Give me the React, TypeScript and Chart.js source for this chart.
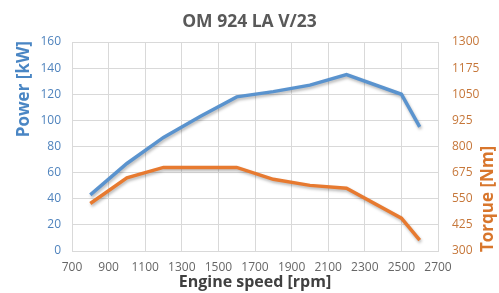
import React, { useEffect, useRef } from "react";
import { Chart, registerables } from "chart.js";

Chart.register(...registerables);

const rpm = [800, 1000, 1200, 1400, 1600, 1800, 2000, 2200, 2500, 2600];
const powerKW = [43, 67, 87, 103, 118, 122, 127, 135, 120, 95];
const torqueNm = [527, 650, 700, 700, 700, 643, 614, 600, 457, 352];
const xTicks = [700, 900, 1100, 1300, 1500, 1700, 1900, 2100, 2300, 2500, 2700];
const powerTicks = [0, 20, 40, 60, 80, 100, 120, 140, 160];
const torqueTicks = [300, 425, 550, 675, 800, 925, 1050, 1175, 1300];

const BLUE = "#5A93CE";
const ORANGE = "#E77A30";
const FONT = "'Open Sans', 'Noto Sans', sans-serif";
const plain = (v: any) => String(v);

const shadowPlugin = {
  id: "lineShadow",
  beforeDatasetDraw(chart: any) {
    const ctx = chart.ctx;
    ctx.save();
    ctx.shadowColor = "rgba(0,0,0,0.28)";
    ctx.shadowBlur = 3;
    ctx.shadowOffsetX = 1;
    ctx.shadowOffsetY = 2;
  },
  afterDatasetDraw(chart: any) {
    chart.ctx.restore();
  },
};

const yTitlesPlugin = {
  id: "yTitles",
  afterDraw(chart: any) {
    const ctx = chart.ctx;
    const area = chart.chartArea;
    ctx.save();
    ctx.font = `bold 17px ${FONT}`;
    ctx.textBaseline = "middle";
    ctx.save();
    ctx.translate(24, area.top - 1);
    ctx.rotate(-Math.PI / 2);
    ctx.textAlign = "right";
    ctx.fillStyle = "#4A86C4";
    ctx.fillText("Power [kW]", 0, 0);
    ctx.restore();
    ctx.save();
    ctx.translate(488, area.bottom + 1);
    ctx.rotate(-Math.PI / 2);
    ctx.textAlign = "left";
    ctx.fillStyle = "#D8762C";
    ctx.fillText("Torque [Nm]", 0, 0);
    ctx.restore();
    ctx.restore();
  },
};

export default function App() {
  const ref = useRef<HTMLCanvasElement>(null);
  useEffect(() => {
    document.body.style.margin = "0";
    const chart = new Chart(ref.current as HTMLCanvasElement, {
      type: "line",
      data: {
        datasets: [
          {
            label: "Power",
            data: rpm.map((x, i) => ({ x, y: powerKW[i] })),
            borderColor: BLUE,
            borderWidth: 3.5,
            pointRadius: 0,
            yAxisID: "y",
            tension: 0,
          },
          {
            label: "Torque",
            data: rpm.map((x, i) => ({ x, y: torqueNm[i] })),
            borderColor: ORANGE,
            borderWidth: 3.5,
            pointRadius: 0,
            yAxisID: "y1",
            tension: 0,
          },
        ],
      },
      options: {
        animation: false,
        responsive: false,
        layout: { padding: 0 },
        plugins: {
          legend: { display: false },
          tooltip: { enabled: false },
          title: {
            display: true,
            text: "OM 924 LA V/23",
            color: "#595959",
            font: { family: FONT, size: 17.5, weight: "bold" },
            padding: { top: 12, bottom: 9 },
          },
        },
        scales: {
          x: {
            type: "linear",
            min: 700,
            max: 2700,
            afterBuildTicks: (s: any) => {
              s.ticks = xTicks.map((v) => ({ value: v }));
            },
            afterFit: (s: any) => {
              s.height = 42;
            },
            ticks: {
              color: "#666666",
              font: { family: FONT, size: 12 },
              padding: 9,
              maxRotation: 0,
              autoSkip: false,
              callback: plain,
            },
            grid: { color: "#D9D9D9", drawTicks: false },
            border: { display: true, color: "#D9D9D9" },
            title: {
              display: true,
              text: "Engine speed [rpm]",
              color: "#404040",
              font: { family: FONT, size: 16, weight: "bold" },
              padding: { top: 0, bottom: 1 },
            },
          },
          y: {
            type: "linear",
            position: "left",
            min: 0,
            max: 160,
            afterBuildTicks: (s: any) => {
              s.ticks = powerTicks.map((v) => ({ value: v }));
            },
            afterFit: (s: any) => {
              s.width = 72;
            },
            ticks: {
              color: "#4F83BD",
              font: { family: FONT, size: 12 },
              padding: 11,
              callback: plain,
            },
            grid: { color: "#D9D9D9", drawTicks: false },
            border: { display: true, color: "#D9D9D9" },
          },
          y1: {
            type: "linear",
            position: "right",
            min: 300,
            max: 1300,
            afterBuildTicks: (s: any) => {
              s.ticks = torqueTicks.map((v) => ({ value: v }));
            },
            afterFit: (s: any) => {
              s.width = 61;
            },
            ticks: {
              color: "#C6773A",
              font: { family: FONT, size: 12 },
              padding: 14,
              callback: plain,
            },
            grid: { display: false, drawTicks: false },
            border: { display: true, color: "#D9D9D9" },
          },
        },
      },
      plugins: [shadowPlugin, yTitlesPlugin],
    } as any);
    return () => chart.destroy();
  }, []);
  return (
    <div style={{ width: 499, height: 293 }}>
      <canvas ref={ref} width={499} height={293} style={{ display: "block" }} />
    </div>
  );
}
